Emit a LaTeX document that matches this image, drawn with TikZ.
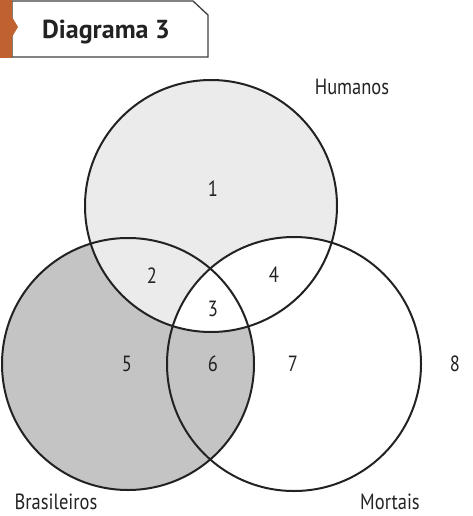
\documentclass[tikz,border=0pt]{standalone}
\usepackage{fontspec}
\setmainfont{PT Sans}
\newfontfamily\narrowfont[FakeStretch=0.84]{PT Sans}
\definecolor{tab-orange}{HTML}{C0622F}
\definecolor{light-grey}{HTML}{EBEBEB}
\definecolor{dark-grey}{HTML}{C4C4C4}
\definecolor{ink}{HTML}{222222}

\begin{document}
\begin{tikzpicture}
        [x=1pt,y=-1pt,
        every node/.style={inner sep=0pt,align=center},
        region-label/.style={font=\narrowfont\fontsize{22}{22}\selectfont,text=ink},
        set-label/.style={font=\narrowfont\fontsize{22}{22}\selectfont,text=ink},
        title-label/.style={font=\fontsize{26}{26}\selectfont\bfseries,text=ink},
        set-line/.style={draw=ink,line width=2pt}
        ]
        \useasboundingbox (0, 0) rectangle (473, 516);
        % header tab
        \draw[fill=white,draw=black!75,line width=1.3pt] (12, 1) -- (193, 1) -- (208, 15) -- (208, 57) -- (12, 57) -- cycle;
        \fill[tab-orange] (0, 0) -- (12, 0) -- (12, 17) -- (18, 27) -- (12, 37) -- (12, 58) -- (0, 58) -- cycle;
        \node[title-label] (title) at (106, 32) {Diagrama 3};
        % sets
        \fill[dark-grey] (128, 364) circle (126);
        \fill[light-grey] (211, 206) circle (126);
        \begin{scope}
            \clip (211, 206) circle (126);
            \fill[white] (294, 364) circle (127);
        \end{scope}
        \draw[set-line] (211, 206) circle (126);
        \draw[set-line] (128, 364) circle (126);
        \draw[set-line] (294, 364) circle (127);
        \node[region-label] (node-1) at (213, 189) {1};
        \node[region-label] (node-2) at (152, 276) {2};
        \node[region-label] (node-3) at (213, 309) {3};
        \node[region-label] (node-4) at (274, 275) {4};
        \node[region-label] (node-5) at (127, 364) {5};
        \node[region-label] (node-6) at (213, 364) {6};
        \node[region-label] (node-7) at (293, 364) {7};
        \node[region-label] (node-8) at (455, 364) {8};
        \node[set-label] (humanos) at (352, 87) {Humanos};
        \node[set-label] (brasileiros) at (56, 502) {Brasileiros};
        \node[set-label] (mortais) at (390, 502) {Mortais};
    \end{tikzpicture}
\end{document}
